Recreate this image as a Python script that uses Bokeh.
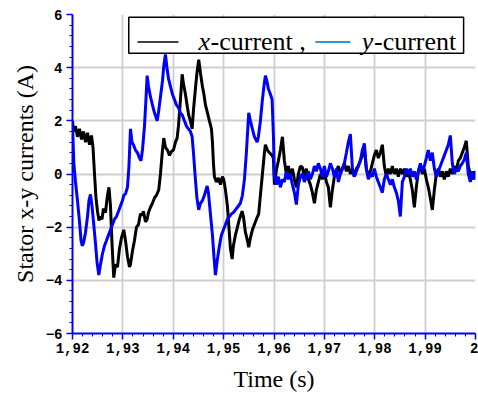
from bokeh.plotting import figure
from bokeh.models import Range1d, SingleIntervalTicker, CustomJSTickFormatter
from bokeh.core.properties import value
from bokeh.embed import file_html
from bokeh.resources import INLINE

# ---------------- data ----------------
t_x = [1.92000, 1.92020, 1.92060, 1.92099, 1.92139, 1.92179, 1.92218, 1.92258, 1.92298, 1.92337,
       1.92377, 1.92407, 1.92437, 1.92466, 1.92496, 1.92526, 1.92556, 1.92585, 1.92615, 1.92655,
       1.92694, 1.92724, 1.92754, 1.92784, 1.92819, 1.92853, 1.92893, 1.92933, 1.92972, 1.93018,
       1.93052, 1.93091, 1.93131, 1.93151, 1.93190, 1.93230, 1.93270, 1.93310, 1.93349, 1.93383,
       1.93409, 1.93448, 1.93482, 1.93508, 1.93548, 1.93587, 1.93627, 1.93667, 1.93712, 1.93746,
       1.93786, 1.93812, 1.93845, 1.93885, 1.93925, 1.93964, 1.94004, 1.94044, 1.94077, 1.94103,
       1.94143, 1.94177, 1.94202, 1.94242, 1.94282, 1.94308, 1.94341, 1.94375, 1.94401, 1.94440,
       1.94470, 1.94506, 1.94540, 1.94579, 1.94609, 1.94639, 1.94679, 1.94718, 1.94758, 1.94778,
       1.94798, 1.94817, 1.94857, 1.94897, 1.94937, 1.94976, 1.95002, 1.95036, 1.95075, 1.95105,
       1.95135, 1.95169, 1.95194, 1.95234, 1.95274, 1.95313, 1.95367, 1.95393, 1.95433, 1.95472,
       1.95498, 1.95532, 1.95571, 1.95611, 1.95651, 1.95696, 1.95730, 1.95770, 1.95810, 1.95829,
       1.95869, 1.95909, 1.95962, 1.95988]
i_x = [2.0, 1.6, 1.8, 1.4, 1.7, 1.3, 1.6, 1.2, 1.55, 1.1,
       1.45, 1.0, 0.0, -0.9, -1.4, -1.75, -1.6, -1.7, -1.3, -1.45,
       -0.8, -0.5, -1.2, -2.6, -3.9, -3.4, -3.5, -2.8, -2.4, -2.1,
       -2.5, -3.1, -3.5, -3.4, -2.9, -2.5, -2.0, -1.9, -1.5, -1.55,
       -1.4, -1.8, -1.7, -1.45, -1.25, -1.1, -0.9, -0.8, -0.6, 0.0,
       0.9, 1.35, 1.0, 0.9, 0.7, 0.85, 0.9, 1.2, 1.35, 1.8,
       2.8, 3.75, 3.4, 3.0, 2.5, 2.2, 2.0, 1.7, 2.4, 3.2,
       3.8, 4.3, 3.8, 3.3, 3.0, 2.6, 2.3, 2.0, 1.7, 1.2,
       0.4, -0.1, -0.3, -0.15, -0.4, -0.1, -0.2, -0.6, -1.2, -2.0,
       -2.8, -3.2, -2.7, -2.3, -2.0, -1.7, -1.4, -1.6, -2.2, -2.5,
       -2.75, -2.4, -2.1, -1.9, -1.7, -1.5, -0.8, 0.0, 0.8, 1.1,
       0.9, 0.8, 0.7, 0.6]

t_y = [1.92000, 1.92026, 1.92060, 1.92099, 1.92139, 1.92169, 1.92192, 1.92218, 1.92258, 1.92298,
       1.92327, 1.92357, 1.92387, 1.92417, 1.92456, 1.92486, 1.92522, 1.92556, 1.92595, 1.92635,
       1.92675, 1.92714, 1.92754, 1.92794, 1.92833, 1.92873, 1.92913, 1.92952, 1.92992, 1.93018,
       1.93052, 1.93091, 1.93121, 1.93151, 1.93181, 1.93210, 1.93250, 1.93290, 1.93329, 1.93359,
       1.93389, 1.93429, 1.93458, 1.93482, 1.93508, 1.93548, 1.93587, 1.93627, 1.93681, 1.93706,
       1.93746, 1.93786, 1.93815, 1.93845, 1.93875, 1.93905, 1.93944, 1.93984, 1.94024, 1.94063,
       1.94103, 1.94143, 1.94183, 1.94222, 1.94262, 1.94302, 1.94341, 1.94375, 1.94401, 1.94440,
       1.94470, 1.94506, 1.94540, 1.94579, 1.94619, 1.94673, 1.94698, 1.94738, 1.94778, 1.94808,
       1.94837, 1.94877, 1.94917, 1.94956, 1.94996, 1.95036, 1.95075, 1.95115, 1.95155, 1.95194,
       1.95234, 1.95274, 1.95333, 1.95373, 1.95413, 1.95452, 1.95498, 1.95532, 1.95571, 1.95611,
       1.95665, 1.95690, 1.95730, 1.95770, 1.95800, 1.95829, 1.95859, 1.95889, 1.95929, 1.95962,
       1.95988]
i_y = [1.9, 0.4, -0.3, -1.0, -1.8, -2.5, -2.7, -2.6, -2.2, -1.6,
       -1.0, -0.77, -1.2, -1.8, -2.6, -3.3, -3.8, -3.4, -3.0, -2.7,
       -2.5, -2.3, -2.1, -1.9, -1.7, -1.6, -1.4, -1.2, -1.0, -0.8,
       -0.75, -0.5, 0.3, 1.7, 1.2, 1.1, 0.9, 0.8, 0.6, 0.5,
       0.9, 1.8, 2.8, 3.7, 3.3, 2.9, 2.6, 2.3, 2.0, 2.3,
       2.9, 3.5, 4.1, 4.5, 4.0, 3.6, 3.3, 3.0, 2.8, 2.6,
       2.5, 2.3, 2.2, 2.0, 1.8, 1.7, 1.6, 1.4, 0.8, -0.2,
       -0.9, -1.35, -1.1, -1.0, -0.8, -0.45, -0.7, -1.5, -2.3, -3.1,
       -3.8, -3.2, -2.7, -2.3, -2.1, -1.9, -1.7, -1.6, -1.5, -1.45,
       -1.35, -1.25, -1.1, -0.8, -0.2, 0.8, 2.3, 2.0, 1.7, 1.4,
       1.2, 1.4, 2.0, 2.8, 3.3, 3.7, 3.5, 3.2, 3.0, 2.8,
       1.5]

# steady-state part (shared sampling instants)
t_ss = [1.96008, 1.96048, 1.96087, 1.96127, 1.96167, 1.96206, 1.96246, 1.96286, 1.96325, 1.96365,
        1.96405, 1.96444, 1.96484, 1.96524, 1.96563, 1.96603, 1.96643, 1.96683, 1.96722, 1.96762,
        1.96802, 1.96841, 1.96881, 1.96921, 1.96960, 1.97000, 1.97040, 1.97079, 1.97119, 1.97159,
        1.97198, 1.97238, 1.97278, 1.97317, 1.97357, 1.97397, 1.97437, 1.97476, 1.97516, 1.97556,
        1.97595, 1.97635, 1.97675, 1.97714, 1.97754, 1.97794, 1.97833, 1.97873, 1.97913, 1.97952,
        1.97992, 1.98032, 1.98071, 1.98111, 1.98151, 1.98190, 1.98230, 1.98270, 1.98310, 1.98349,
        1.98389, 1.98429, 1.98468, 1.98508, 1.98548, 1.98587, 1.98627, 1.98667, 1.98706, 1.98746,
        1.98786, 1.98825, 1.98865, 1.98905, 1.98944, 1.98984, 1.99024, 1.99063, 1.99103, 1.99143,
        1.99183, 1.99222, 1.99262, 1.99302, 1.99341, 1.99381, 1.99421, 1.99460, 1.99500, 1.99540,
        1.99579, 1.99619, 1.99659, 1.99698, 1.99738, 1.99778, 1.99817, 1.99857, 1.99897, 1.99937,
        1.99976, 2.00000]
i_x_ss = [-0.4, 0.15, 0.5, 0.9, 1.4, 0.5, 0.0, 0.3, -0.1, 0.2,
          -0.2, -0.5, 0.0, 0.3, 0.25, -0.1, 0.2, -0.2, -0.4, -0.7,
          -1.1, -0.6, -0.3, 0.0, -0.2, 0.1, -0.3, -0.5, -1.25, -0.6,
          -0.1, 0.1, 0.3, 0.0, 0.2, 0.4, 0.1, 0.3, 0.0, 0.2,
          -0.1, 0.2, 0.3, 0.5, 0.7, 0.95, 0.2, -0.1, 0.1, 0.4,
          0.7, 0.9, 0.6, 0.8, 1.1, 0.3, -0.1, 0.2, 0.0, 0.3,
          0.0, 0.2, -0.1, 0.2, 0.0, 0.2, -0.1, 0.1, -0.2, -0.6,
          -1.25, -0.5, 0.1, 0.3, 0.0, 0.2, -0.2, -0.5, -0.9, -1.35,
          -0.6, 0.0, 0.2, -0.1, 0.1, -0.2, 0.1, -0.1, 0.2, 0.0,
          0.3, 0.1, 0.5, 0.6, 0.8, 1.0, 1.25, 0.3, 0.0, -0.2,
          0.1, 0.0]
i_y_ss = [-0.1, -0.4, -0.1, -0.5, -0.2, -0.3, 0.1, -0.2, 0.0, -0.4,
          -0.7, -1.15, -0.4, -0.1, 0.0, -0.3, -0.1, 0.1, -0.2, 0.0,
          0.3, 0.1, 0.4, 0.2, -0.1, 0.3, -0.1, 0.1, 0.4, 0.2,
          -0.1, 0.2, -0.3, 0.0, 0.2, 0.4, 0.8, 1.2, 1.5, 0.2,
          -0.1, 0.1, 0.3, 0.5, 0.9, 1.15, 0.2, -0.2, 0.0, -0.1,
          0.2, -0.1, -0.3, -0.5, -0.7, -0.2, 0.0, -0.2, -0.4, -0.2,
          -0.5, -0.7, -1.0, -1.6, -0.3, -0.1, 0.2, 0.0, 0.2, -0.1,
          0.1, -0.2, 0.1, 0.4, 0.1, 0.3, 0.6, 0.9, 0.5, 0.8,
          0.2, -0.1, 0.1, 0.3, 0.5, 0.7, 0.9, 1.1, 1.45, 0.4,
          0.0, 0.2, 0.1, 0.3, 0.4, 0.55, 0.8, 0.0, -0.3, 0.1,
          -0.2, 0.0]

series_names = ["x-current", "y-current"]
x_tick_step = 0.01
y_tick_step = 2

# ---------------- figure ----------------
p = figure(width=478, height=394, output_backend="svg", toolbar_location=None,
           x_range=Range1d(1.92, 2.0), y_range=Range1d(-6, 6),
           min_border_left=72, min_border_right=3, min_border_top=14, min_border_bottom=57)
p.background_fill_color = "white"
p.border_fill_color = "white"
p.outline_line_color = None

p.xaxis.ticker = SingleIntervalTicker(interval=x_tick_step, num_minor_ticks=5)
p.yaxis.ticker = SingleIntervalTicker(interval=y_tick_step, num_minor_ticks=5)
p.xaxis.formatter = CustomJSTickFormatter(
    code="if (Math.abs(tick-2) < 1e-9) { return '2'; } return tick.toFixed(2).replace('.', ',');")
p.yaxis.formatter = CustomJSTickFormatter(
    code="var v = Math.round(tick); return v < 0 ? '\u2212' + (-v) : '' + v;")

for ax in (p.xaxis, p.yaxis):
    ax.axis_line_color = "#0000ff"
    ax.axis_line_width = 2
    ax.major_tick_line_color = "#0000ff"
    ax.minor_tick_line_color = "#0000ff"
    ax.major_tick_line_width = 1.5
    ax.major_tick_out = 6
    ax.major_tick_in = 0
    ax.minor_tick_out = 3
    ax.minor_tick_in = 0
    ax.major_label_text_font = "Liberation Mono"
    ax.major_label_text_font_style = "bold"
    ax.major_label_text_font_size = "14px"
    ax.major_label_text_color = "black"
    ax.axis_label_text_font = "Liberation Serif"
    ax.axis_label_text_font_style = "normal"
    ax.axis_label_text_font_size = "24px"
    ax.axis_label_text_color = "black"

p.xaxis.axis_label = "Time (s)"
p.yaxis.axis_label = "Stator x-y currents (A)"
p.xaxis.major_label_standoff = 3
p.yaxis.major_label_standoff = 4
p.xaxis.axis_label_standoff = 10
p.yaxis.axis_label_standoff = 5

p.grid.grid_line_color = "#cfcfcf"
p.grid.grid_line_width = 1.8

p.line(t_x + t_ss, i_x + i_x_ss, line_color="black", line_width=3)
p.line(t_y + t_ss, i_y + i_y_ss, line_color="#0000ff", line_width=3)

# ---------------- legend (drawn on top of the traces) ----------------
p.quad(left=[1.93117], right=[1.99764], top=[5.90], bottom=[4.54],
       fill_color="white", line_color="black", line_width=1.5)
p.segment(x0=[1.93290], x1=[1.94103], y0=[4.97], y1=[4.97], line_color="black", line_width=1.5)
p.segment(x0=[1.96821], x1=[1.97516], y0=[4.97], y1=[4.97], line_color="#3a8fd9", line_width=2)
p.text(x=[1.94500, 1.97740], y=[4.97, 4.97], text=[series_names[0][0], series_names[1][0]],
       text_font=value("Liberation Serif"), text_font_style="italic", text_font_size="26px",
       text_baseline="middle", text_align="left", text_color="black")
p.text(x=[1.94740, 1.97985], y=[4.97, 4.97], text=[series_names[0][1:] + " ,", series_names[1][1:]],
       text_font=value("Liberation Serif"), text_font_style="normal", text_font_size="26px",
       text_baseline="middle", text_align="left", text_color="black")

open("out.html", "w").write(file_html(p, INLINE))
